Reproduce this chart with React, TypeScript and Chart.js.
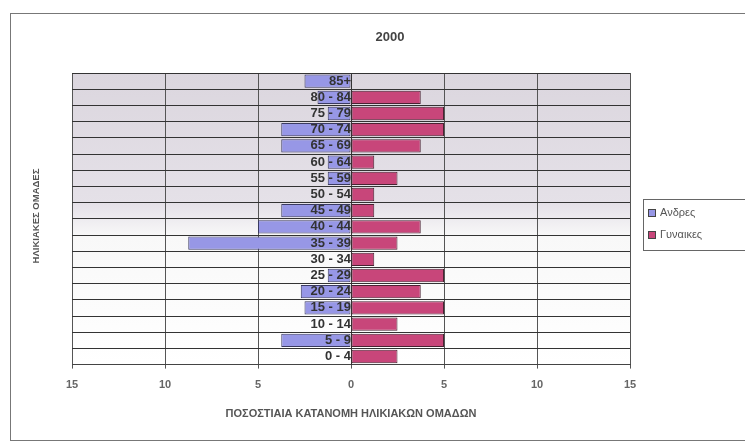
import React, { useEffect, useRef } from 'react';
import { Chart, registerables } from 'chart.js';

Chart.register(...registerables);

const CHART_TITLE = '2000';
const AGE_GROUPS = ['85+', '80 - 84', '75 - 79', '70 - 74', '65 - 69', '60 - 64', '55 - 59', '50 - 54', '45 - 49', '40 - 44', '35 - 39', '30 - 34', '25 - 29', '20 - 24', '15 - 19', '10 - 14', '5 - 9', '0 - 4'];
const MEN = [2.5, 1.8, 1.25, 3.75, 3.75, 1.25, 1.25, 0, 3.75, 5, 8.75, 0, 1.25, 2.7, 2.5, 0, 3.75, 0];
const WOMEN = [0, 3.75, 5, 5, 3.75, 1.25, 2.5, 1.25, 1.25, 3.75, 2.5, 1.25, 5, 3.75, 5, 2.5, 5, 2.5];
const X_MIN = -15;
const X_MAX = 15;
const X_STEP = 5;
const MEN_LABEL = 'Ανδρες';
const WOMEN_LABEL = 'Γυναικες';
const X_TITLE = 'ΠΟΣΟΣΤΙΑΙΑ ΚΑΤΑΝΟΜΗ ΗΛΙΚΙΑΚΩΝ ΟΜΑΔΩΝ';
const Y_TITLE = 'ΗΛΙΚΙΑΚΕΣ ΟΜΑΔΕΣ';

const MEN_COLOR = '#9797e6';
const WOMEN_COLOR = '#c8467a';
const FONT = "Arial, 'Liberation Sans', sans-serif";

const decorPlugin = {
  id: 'decor',
  beforeDraw(chart: any) {
    const { ctx, chartArea: a } = chart;
    ctx.save();
    ctx.fillStyle = '#ffffff';
    ctx.fillRect(0, 0, chart.width, chart.height);
    const g = ctx.createLinearGradient(0, a.top, 0, a.bottom);
    g.addColorStop(0, '#dbd6de');
    g.addColorStop(0.45, '#e5e1e8');
    g.addColorStop(0.56, '#f8f8f8');
    g.addColorStop(1, '#ffffff');
    ctx.fillStyle = g;
    ctx.fillRect(a.left, a.top, a.right - a.left, a.bottom - a.top);
    ctx.strokeStyle = '#777';
    ctx.lineWidth = 1;
    ctx.strokeRect(10.5, 13.5, 780, 427);
    ctx.restore();
  },
  afterDraw(chart: any) {
    const { ctx } = chart;
    ctx.save();
    // chart title
    ctx.fillStyle = '#444';
    ctx.font = `bold 13px ${FONT}`;
    ctx.textAlign = 'center';
    ctx.textBaseline = 'middle';
    ctx.fillText(CHART_TITLE, 390, 37);
    // y axis title
    ctx.save();
    ctx.translate(36, 216);
    ctx.rotate(-Math.PI / 2);
    ctx.font = `bold 9.5px ${FONT}`;
    ctx.fillStyle = '#555';
    ctx.fillText(Y_TITLE, 0, 0);
    ctx.restore();
    // legend
    ctx.strokeStyle = '#666';
    ctx.lineWidth = 1;
    ctx.strokeRect(643.5, 199.5, 140, 51);
    const items = chart.data.datasets;
    items.forEach((ds: any, i: number) => {
      const y = 213 + i * 22;
      ctx.fillStyle = ds.backgroundColor;
      ctx.fillRect(648, y - 4, 8, 8);
      ctx.strokeStyle = '#444';
      ctx.strokeRect(648.5, y - 3.5, 7, 7);
      ctx.fillStyle = '#555';
      ctx.font = `11px ${FONT}`;
      ctx.textAlign = 'left';
      ctx.textBaseline = 'middle';
      ctx.fillText(ds.label, 660, y);
    });
    ctx.restore();
  },
};

export default function App() {
  const ref = useRef<HTMLCanvasElement | null>(null);

  useEffect(() => {
    if (!ref.current) return;
    const chart = new Chart(ref.current, {
      type: 'bar',
      data: {
        labels: AGE_GROUPS,
        datasets: [
          {
            label: MEN_LABEL,
            data: MEN.map((v) => -v),
            backgroundColor: MEN_COLOR,
            borderColor: '#3a3a60',
            borderWidth: 1,
            borderSkipped: false,
            categoryPercentage: 0.82,
            barPercentage: 1,
          },
          {
            label: WOMEN_LABEL,
            data: WOMEN,
            backgroundColor: WOMEN_COLOR,
            borderColor: '#4a2232',
            borderWidth: 1,
            borderSkipped: false,
            categoryPercentage: 0.82,
            barPercentage: 1,
          },
        ],
      },
      options: {
        animation: false,
        responsive: true,
        maintainAspectRatio: false,
        indexAxis: 'y',
        layout: { padding: { left: 72, right: 115, top: 73, bottom: 20 } },
        plugins: {
          legend: { display: false },
          title: { display: false },
          tooltip: { enabled: false },
        },
        scales: {
          x: {
            type: 'linear',
            min: X_MIN,
            max: X_MAX,
            stacked: true,
            ticks: {
              stepSize: X_STEP,
              callback: (v: any) => String(Math.abs(Number(v))),
              color: '#666',
              font: { family: FONT, size: 11, weight: 'bold' },
              padding: 10,
            },
            grid: { color: '#555', lineWidth: 1, tickLength: 4, drawTicks: true },
            border: { color: '#444' },
            title: {
              display: true,
              text: X_TITLE,
              color: '#555',
              font: { family: FONT, size: 11, weight: 'bold' },
              padding: { top: 6, bottom: 4 },
            },
          },
          y: {
            type: 'category',
            stacked: true,
            position: { x: 0 },
            afterFit: (s: any) => {
              s.width = 0;
            },
            ticks: {
              autoSkip: false,
              z: 1,
              padding: 5,
              color: '#333',
              font: { family: FONT, size: 13, weight: 'bold' },
            },
            grid: { offset: true, color: '#333', drawTicks: false },
            border: { color: '#333' },
          },
        },
      } as any,
      plugins: [decorPlugin],
    });
    return () => chart.destroy();
  }, []);

  return (
    <div style={{ position: 'fixed', left: 0, top: 0, width: 745, height: 445, background: '#fff' }}>
      <canvas ref={ref} />
    </div>
  );
}
